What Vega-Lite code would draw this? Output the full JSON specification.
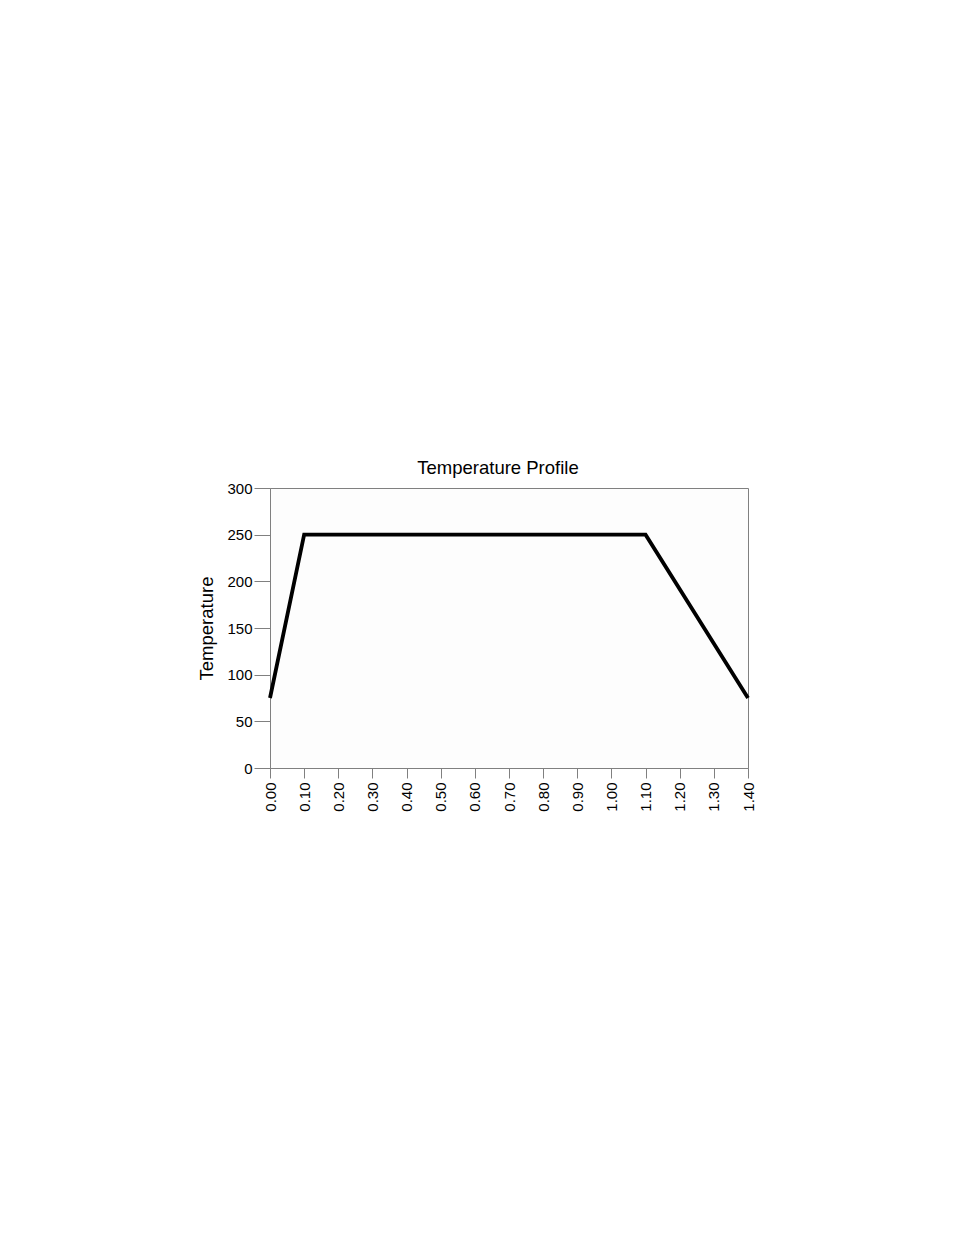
{
  "$schema": "https://vega.github.io/schema/vega-lite/v6.json",
  "autosize": {"type": "none"},
  "width": 478,
  "height": 280,
  "padding": {"left": 270, "top": 488, "right": 206, "bottom": 467},
  "background": "white",
  "config": {
    "font": "Liberation Sans",
    "view": {"stroke": "#808080", "strokeWidth": 1, "fill": "#fdfdfd"}
  },
  "title": {
    "text": "Temperature Profile",
    "fontSize": 18.5,
    "fontWeight": "normal",
    "font": "Liberation Sans",
    "color": "black",
    "offset": 4,
    "dx": -11,
    "anchor": "middle"
  },
  "data": {
    "values": [
      {"time": 0.0, "temperature": 75},
      {"time": 0.1, "temperature": 250},
      {"time": 1.1, "temperature": 250},
      {"time": 1.4, "temperature": 75}
    ]
  },
  "mark": {"type": "line", "color": "black", "strokeWidth": 3.8, "clip": false},
  "encoding": {
    "x": {
      "field": "time",
      "type": "quantitative",
      "scale": {"domain": [0, 1.4], "nice": false, "zero": false},
      "axis": {
        "title": null,
        "values": [0, 0.1, 0.2, 0.3, 0.4, 0.5, 0.6, 0.7, 0.8, 0.9, 1.0, 1.1, 1.2, 1.3, 1.4],
        "format": ".2f",
        "labelAngle": 270,
        "labelAlign": "right",
        "labelBaseline": "middle",
        "labelFontSize": 15,
        "labelColor": "black",
        "labelPadding": 4,
        "tickSize": 10,
        "tickColor": "#808080",
        "domainColor": "#808080",
        "grid": false,
        "labelOverlap": false,
        "labelFlush": false
      }
    },
    "y": {
      "field": "temperature",
      "type": "quantitative",
      "scale": {"domain": [0, 300], "nice": false},
      "axis": {
        "title": "Temperature",
        "titleFontSize": 18.5,
        "titleFontWeight": "normal",
        "titleColor": "black",
        "titlePadding": 10,
        "values": [0, 50, 100, 150, 200, 250, 300],
        "labelFontSize": 15,
        "labelColor": "black",
        "labelPadding": 2,
        "tickSize": 16,
        "tickColor": "#808080",
        "domainColor": "#808080",
        "grid": false,
        "labelFlush": false
      }
    }
  }
}
